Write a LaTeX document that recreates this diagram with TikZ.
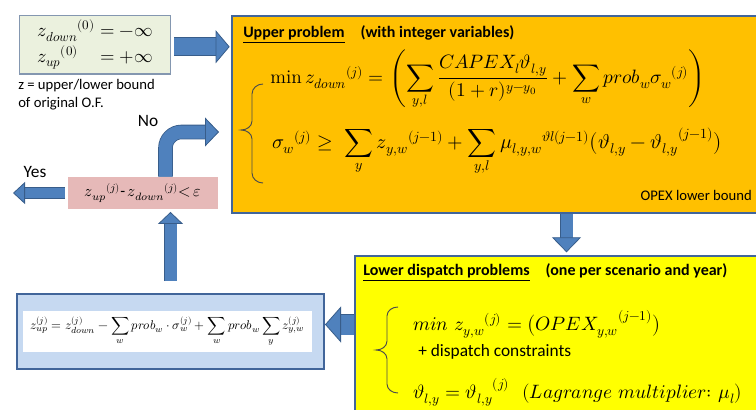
\documentclass[tikz,border=0pt]{standalone}
\usepackage{amsmath}
\usepackage{unicode-math}
\setsansfont{Carlito}
\usetikzlibrary{arrows.meta,calc}

\definecolor{upperfill}{HTML}{FFC000}
\definecolor{lowerfill}{HTML}{FFFF00}
\definecolor{boxline}{HTML}{41659A}
\definecolor{initfill}{HTML}{EBF1DE}
\definecolor{initline}{HTML}{8497B0}
\definecolor{checkfill}{HTML}{E6B9B8}
\definecolor{updatefill}{HTML}{C6D9F1}
\definecolor{flowfill}{HTML}{4F81BD}
\definecolor{flowline}{HTML}{385D8A}

\newlength\unitpx
\setlength\unitpx{0.75pt}

\tikzset{
    panel/.style={draw=boxline, line width=1.5pt, anchor=north west, inner sep=0pt},
    eq/.style={font=\fontsize{14.5}{17}\selectfont, inner sep=0pt},
    title/.style={font=\sffamily\bfseries\fontsize{12}{14}\selectfont, inner sep=0pt},
    note/.style={font=\sffamily\fontsize{11}{13.5}\selectfont, align=left, inner sep=0pt},
    lbl/.style={font=\sffamily\fontsize{13}{15}\selectfont, inner sep=0pt},
    curly/.style={draw=black!70, line width=0.7pt},
    flowarrow/.style n args={3}{draw=flowfill, line width=#1,
        -{Triangle[width=#2, length=#3, fill=flowfill, color=flowline, line width=0.6pt]},
        preaction={draw=flowline, arrows=-, line width=#1+1.2pt, shorten >=#3-1pt}}
}

\begin{document}
\begin{tikzpicture}[x=0.75pt,y=-0.75pt]
    \useasboundingbox (0,0) rectangle (756,410);
    %% starting bounds
    \node[anchor=north west, draw=initline, line width=1pt, fill=initfill,
          minimum width=151\unitpx, minimum height=58\unitpx, font=\fontsize{14}{16}\selectfont]
        (init) at (19,15) {$\begin{array}{@{}l@{}l@{}} {z_{down}}^{(0)} & {}= -\infty\\[2pt] {z_{up}}^{(0)} & {}= +\infty \end{array}$};
    \node[note, anchor=north west] (bound) at (18,79) {z = upper/lower bound\\of original O.F.};
    %% upper problem
    \node[panel, fill=upperfill, minimum width=530\unitpx, minimum height=197\unitpx] (upper) at (231,15) {};
    \node[title, anchor=west] (uppertitle) at (243,34) {\underline{Upper problem}\quad (with integer variables)};
    \node[eq, anchor=west] (obj) at (270,80)
        {$\displaystyle \min {z_{down}}^{(j)} = \left(\sum_{y,l}\frac{CAPEX_l\vartheta_{l,y}}{(1+r)^{y-y_0}} + \sum_w prob_w{\sigma_w}^{(j)}\right)$};
    \node[eq, anchor=west, font=\fontsize{15}{18}\selectfont] (cut) at (272,152)
        {$\displaystyle {\sigma_w}^{(j)} \ge\ \sum_y {z_{y,w}}^{(j-1)} + \sum_{y,l} {\mu_{l,y,w}}^{\vartheta l(j-1)}\bigl(\vartheta_{l,y} - {\vartheta_{l,y}}^{(j-1)}\bigr)$};
    \node[note, anchor=east] (opex) at (752,195) {OPEX lower bound};
    \draw[curly] (263,84) to[out=180,in=90] (252,94) -- (252,121) to[out=-90,in=0] (241,130)
        to[out=0,in=90] (252,139) -- (252,173) to[out=-90,in=180] (263,183);
    %% lower dispatch problems
    \node[panel, fill=lowerfill, minimum width=405\unitpx, minimum height=160\unitpx] (lower) at (354,255) {};
    \node[title, anchor=west] (lowertitle) at (363,272) {\underline{Lower dispatch problems}\quad (one per scenario and year)};
    \node[eq, anchor=west] (dispobj) at (413,324) {$min\ {z_{y,w}}^{(j)} = \bigl({OPEX_{y,w}}^{(j-1)}\bigr)$};
    \node[lbl, anchor=west] (dispcons) at (418,352) {+ dispatch constraints};
    \node[eq, anchor=west] (fix) at (413,392) {$\vartheta_{l,y} = {\vartheta_{l,y}}^{(j)}\ \ (Lagrange\ multiplier{:}\ \mu_l)$};
    \draw[curly] (398,307) to[out=180,in=90] (387,316) -- (387,341) to[out=-90,in=0] (376,350)
        to[out=0,in=90] (387,359) -- (387,384) to[out=-90,in=180] (398,393);
    %% convergence test
    \node[fill=checkfill, minimum width=150\unitpx, minimum height=32\unitpx, inner sep=0pt,
          font=\fontsize{12}{14}\selectfont] (check) at (143,193)
        {${z_{up}}^{(j)}$\textsf{-}\,${z_{down}}^{(j)}{<}\,\varepsilon$};
    \node[lbl] (yes) at (35,172) {Yes};
    \node[lbl] (no) at (148,121) {No};
    %% upper bound update
    \node[panel, fill=updatefill, minimum width=307\unitpx, minimum height=75\unitpx] (update) at (16,293) {};
    \node[fill=white, minimum width=289\unitpx, minimum height=41\unitpx, inner sep=0pt,
          font=\fontsize{9.5}{11}\selectfont] (formula) at (167.5,331.5)
        {$\displaystyle z^{(j)}_{up} = z^{(j)}_{down} - \sum_w prob_w\cdot\sigma^{(j)}_w + \sum_w prob_w \sum_y z^{(j)}_{y,w}$};
    %% flow
    \coordinate (initout) at ($(init.east)+(0,2)$);
    \coordinate (downstart) at ($(upper.south)+(69.5,0)$);
    \coordinate (dispin) at ($(update.east)+(0,-7)$);
    \coordinate (stop) at (13,193);
    \coordinate (retry) at (219,132);
    \draw[flowarrow={12.75pt}{24.75pt}{10.5pt}, shorten <=2pt, shorten >=1pt] (initout) -- (initout -| upper.west);
    \draw[flowarrow={9pt}{21.75pt}{11.25pt}, shorten >=2pt] (downstart) -- (downstart |- lower.north);
    \draw[flowarrow={15pt}{27pt}{12pt}] (lower.west |- dispin) -- (dispin);
    \draw[flowarrow={9pt}{18.75pt}{9pt}, shorten <=9pt, shorten >=2pt] (update.north) -- (update.north |- check.south);
    \draw[flowarrow={7.5pt}{16.5pt}{9pt}, shorten <=2pt] (check.west) -- (stop);
    \draw[flowarrow={9.75pt}{21.75pt}{10.5pt}, rounded corners=12pt] ($(check.north)+(22.5,0)$) |- (retry);
\end{tikzpicture}
\end{document}
